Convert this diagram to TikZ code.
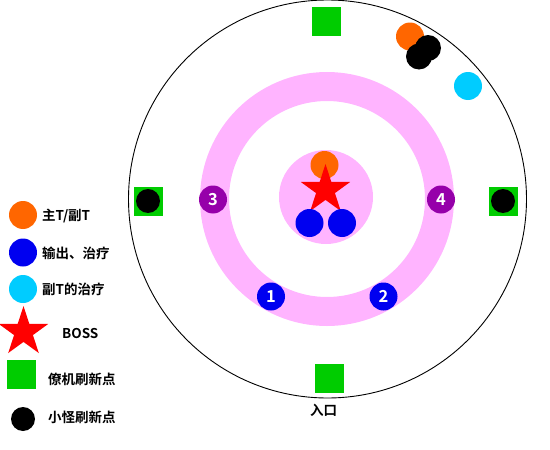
\documentclass[tikz,border=0pt]{standalone}
\usepackage{fontspec}
\setmainfont{Noto Sans CJK SC}[BoldFont={Noto Sans CJK SC Bold}]
\usetikzlibrary{shapes.geometric}
\definecolor{cOrange}{RGB}{255,102,0}
\definecolor{cBlue}{RGB}{0,0,240}
\definecolor{cCyan}{RGB}{0,204,255}
\definecolor{cGreen}{RGB}{0,204,0}
\definecolor{cPink}{RGB}{255,180,255}
\definecolor{cPurple}{RGB}{150,0,170}
\definecolor{cRed}{RGB}{255,0,0}
\tikzset{
  dot/.style={circle,fill=#1,inner sep=0pt,minimum size=28pt},
  mob/.style={circle,fill=black,inner sep=0pt,minimum size=24pt},
  sq/.style={rectangle,fill=cGreen,inner sep=0pt,minimum size=29pt},
  bossstar/.style={star,star points=5,star point ratio=2.618,fill=cRed,inner sep=0pt,minimum size=52pt},
  numdot/.style={circle,fill=#1,inner sep=0pt,minimum size=28pt,text=white,font=\bfseries\fontsize{16.5}{16.5}\selectfont},
  lbl/.style={anchor=west,inner sep=0pt,font=\bfseries\fontsize{13.5}{14}\selectfont},
}
\begin{document}
\begin{tikzpicture}[x=1pt,y=-1pt]
\useasboundingbox (0,0) rectangle (550,450);
% arena
\draw[line width=0.9pt] (327.5,199) circle[radius=199];
\draw[cPink,line width=29pt] (327,199) circle[radius=112.5];
\fill[cPink] (326,197) circle[radius=47];
% centre
\node[dot=cOrange] (tank) at (324.5,165) {};
\node[bossstar] (boss) at (325.5,190) {};
\node[dot=cBlue] (dpsL) at (309.5,223) {};
\node[dot=cBlue] (dpsR) at (342,223) {};
% numbered positions
\node[numdot=cBlue] (n1) at (271,296.5) {1};
\node[numdot=cBlue] (n2) at (383.5,296.5) {2};
\node[numdot=cPurple] (n3) at (213,199.5) {3};
\node[numdot=cPurple] (n4) at (441,199.5) {4};
% spawn points
\node[sq] (sqT) at (326.5,21.5) {};
\node[sq] (sqB) at (329.5,378.5) {};
\node[sq] (sqL) at (148.5,201.5) {};
\node[mob] (mobL) at (148,201) {};
\node[sq] (sqR) at (503.5,201.5) {};
\node[mob] (mobR) at (503,201) {};
\node[inner sep=0pt,font=\bfseries\fontsize{13.5}{14}\selectfont] (entry) at (323.5,410) {入口};
% top right group
\node[dot=cOrange] (otank) at (410,36.5) {};
\node[circle,fill=black,inner sep=0pt,minimum size=26pt] (mob1) at (428,48) {};
\node[circle,fill=black,inner sep=0pt,minimum size=26pt] (mob2) at (419,56.5) {};
\node[dot=cCyan] (heal) at (468,86) {};
% legend
\node[dot=cOrange] (lg1) at (23,215) {};
\node[lbl] (lt1) at (42,216) {主T/副T};
\node[dot=cBlue] (lg2) at (23,252.5) {};
\node[lbl] (lt2) at (42,253) {输出、治疗};
\node[dot=cCyan] (lg3) at (23,289) {};
\node[lbl] (lt3) at (42,289) {副T的治疗};
\node[bossstar] (lg4) at (23.5,332) {};
\node[lbl] (lt4) at (62,334) {BOSS};
\node[sq] (lg5) at (21.5,374.5) {};
\node[lbl] (lt5) at (48,379) {僚机刷新点};
\node[mob] (lg6) at (23,419) {};
\node[lbl] (lt6) at (48,417) {小怪刷新点};
\end{tikzpicture}
\end{document}
